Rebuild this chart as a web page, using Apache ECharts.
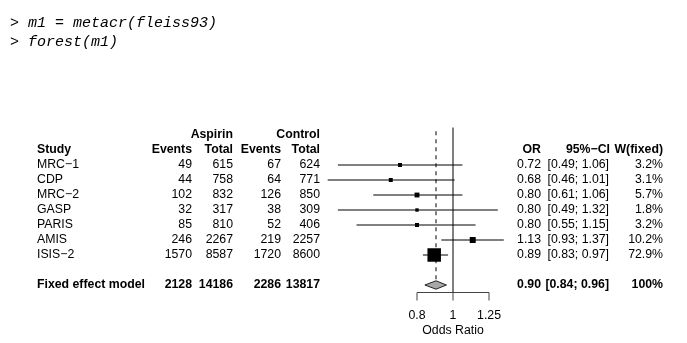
<!DOCTYPE html>
<html><head><meta charset="utf-8">
<script src="https://cdn.jsdelivr.net/npm/echarts@6/dist/echarts.min.js"></script>
<style>html,body{margin:0;padding:0;background:#fff}#c{width:687px;height:343px}</style>
</head><body><div id="c"></div>
<script>
// ---- data ----
const studies = ['MRC\u22121', 'CDP', 'MRC\u22122', 'GASP', 'PARIS', 'AMIS', 'ISIS\u22122'];
const eventsA = [49, 44, 102, 32, 85, 246, 1570];
const totalA = [615, 758, 832, 317, 810, 2267, 8587];
const eventsC = [67, 64, 126, 38, 52, 219, 1720];
const totalC = [624, 771, 850, 309, 406, 2257, 8600];
const oddsRatio = [0.72, 0.68, 0.80, 0.80, 0.80, 1.13, 0.89];
const ciLow = [0.49, 0.46, 0.61, 0.49, 0.55, 0.93, 0.83];
const ciHigh = [1.06, 1.01, 1.06, 1.32, 1.15, 1.37, 0.97];
const weight = [3.2, 3.1, 5.7, 1.8, 3.2, 10.2, 72.9];
const fixedLabel = 'Fixed effect model';
const fixedEventsA = 2128, fixedTotalA = 14186, fixedEventsC = 2286, fixedTotalC = 13817;
const fixedOR = 0.90, fixedLow = 0.84, fixedHigh = 0.96, fixedWeight = '100%';
const axisTicks = [0.8, 1, 1.25];
const axisTickLabels = ['0.8', '1', '1.25'];
const axisTitle = 'Odds Ratio';
const codeLines = ['> m1 = metacr(fleiss93)', '> forest(m1)'];

// ---- layout helpers ----
const FONT = '"Liberation Sans", Arial, Helvetica, sans-serif';
const FS = 12.3;
const f2 = v => v.toFixed(2);
const X = {study: 37, evA: 192, totA: 233, evC: 281, totC: 320, or: 541, ci: 609, ciHead: 610, w: 663};

const tableRows = [];
tableRows.push({y: -1, bold: true, cells: [
  {t: 'Aspirin', x: X.totA, a: 'right'}, {t: 'Control', x: X.totC, a: 'right'}]});
tableRows.push({y: 0, bold: true, cells: [
  {t: 'Study', x: X.study, a: 'left'}, {t: 'Events', x: X.evA, a: 'right'},
  {t: 'Total', x: X.totA, a: 'right'}, {t: 'Events', x: X.evC, a: 'right'},
  {t: 'Total', x: X.totC, a: 'right'}, {t: 'OR', x: X.or, a: 'right'},
  {t: '95%\u2212CI', x: X.ciHead, a: 'right'}, {t: 'W(fixed)', x: X.w, a: 'right'}]});
studies.forEach((s, i) => {
  tableRows.push({y: i + 1, bold: false, cells: [
    {t: s, x: X.study, a: 'left'}, {t: String(eventsA[i]), x: X.evA, a: 'right'},
    {t: String(totalA[i]), x: X.totA, a: 'right'}, {t: String(eventsC[i]), x: X.evC, a: 'right'},
    {t: String(totalC[i]), x: X.totC, a: 'right'}, {t: f2(oddsRatio[i]), x: X.or, a: 'right'},
    {t: '[' + f2(ciLow[i]) + '; ' + f2(ciHigh[i]) + ']', x: X.ci, a: 'right'},
    {t: weight[i].toFixed(1) + '%', x: X.w, a: 'right'}]});
});
const fixedRow = studies.length + 2;
tableRows.push({y: fixedRow, bold: true, cells: [
  {t: fixedLabel, x: X.study, a: 'left'}, {t: String(fixedEventsA), x: X.evA, a: 'right'},
  {t: String(fixedTotalA), x: X.totA, a: 'right'}, {t: String(fixedEventsC), x: X.evC, a: 'right'},
  {t: String(fixedTotalC), x: X.totC, a: 'right'}, {t: f2(fixedOR), x: X.or, a: 'right'},
  {t: '[' + f2(fixedLow) + '; ' + f2(fixedHigh) + ']', x: X.ci, a: 'right'},
  {t: fixedWeight, x: X.w, a: 'right'}]});

const yTop = -1.5, yBottom = fixedRow + 0.5;

const chart = echarts.init(document.getElementById('c'), null, {renderer: 'canvas'});
chart.setOption({
  animation: false,
  backgroundColor: '#ffffff',
  grid: {left: 327.7, width: 176.1, top: 127.5, height: 165},
  xAxis: {type: 'log', min: 0.46, max: 1.37, show: false},
  yAxis: {type: 'value', inverse: true, min: yTop, max: yBottom, show: false},
  graphic: codeLines.map((t, i) => ({
    type: 'text', left: 10, top: 16 + i * 19,
    style: {text: t, fill: '#000', font: 'italic 15px "Liberation Mono", "DejaVu Sans Mono", monospace'}
  })),
  series: [
    { // table text
      type: 'custom', coordinateSystem: 'cartesian2d', silent: true,
      data: tableRows.map((r, i) => [1, r.y, i]),
      renderItem: (params, api) => {
        const r = tableRows[params.dataIndex];
        const y = api.coord([1, r.y])[1];
        return {type: 'group', children: r.cells.map(c => ({
          type: 'text', x: c.x, y: y,
          style: {text: c.t, fill: '#000', align: c.a, verticalAlign: 'middle',
            font: (r.bold ? 'bold ' : '') + FS + 'px ' + FONT}
        }))};
      }
    },
    { // reference lines
      type: 'custom', silent: true,
      data: [[1, 0]],
      renderItem: (params, api) => {
        const a = api.coord([1, yTop]), b = api.coord([1, yBottom]);
        const c = api.coord([fixedOR, -1.25]), d = api.coord([fixedOR, fixedRow - 0.27]);
        return {type: 'group', children: [
          {type: 'line', shape: {x1: a[0], y1: a[1], x2: b[0], y2: b[1]}, style: {stroke: '#000', lineWidth: 1}},
          {type: 'line', shape: {x1: c[0], y1: c[1], x2: d[0], y2: d[1]}, style: {stroke: '#000', lineWidth: 1, lineDash: [4, 4]}}
        ]};
      }
    },
    { // CI lines
      type: 'custom', silent: true,
      data: studies.map((s, i) => [ciLow[i], ciHigh[i], i + 1]),
      encode: {x: [0, 1], y: 2},
      renderItem: (params, api) => {
        const p1 = api.coord([api.value(0), api.value(2)]);
        const p2 = api.coord([api.value(1), api.value(2)]);
        return {type: 'line', shape: {x1: p1[0], y1: p1[1], x2: p2[0], y2: p2[1]}, style: {stroke: '#000', lineWidth: 1}};
      }
    },
    { // squares
      type: 'scatter', silent: true, symbol: 'rect',
      data: studies.map((s, i) => [oddsRatio[i], i + 1, weight[i]]),
      symbolSize: v => 1.5 + 12 * Math.sqrt(v[2] / 72.9),
      itemStyle: {color: '#000', opacity: 1}
    },
    { // diamond
      type: 'custom', silent: true,
      data: [[fixedLow, fixedOR, fixedHigh, fixedRow]],
      encode: {x: [0, 1, 2], y: 3},
      renderItem: (params, api) => {
        const y = api.value(3), h = 0.28;
        const pts = [api.coord([api.value(0), y]), api.coord([api.value(1), y - h]),
                     api.coord([api.value(2), y]), api.coord([api.value(1), y + h])];
        return {type: 'polygon', shape: {points: pts}, style: {fill: '#a8a8a8', stroke: '#222', lineWidth: 1}};
      }
    },
    { // bottom axis
      type: 'custom', silent: true,
      data: axisTicks.map((t, i) => [t, yBottom, i]),
      renderItem: (params, api) => {
        const i = params.dataIndex;
        const p = api.coord([axisTicks[i], yBottom]);
        const children = [
          {type: 'line', shape: {x1: p[0], y1: p[1], x2: p[0], y2: p[1] + 8}, style: {stroke: '#444', lineWidth: 1}},
          {type: 'text', x: p[0], y: p[1] + 23.5, style: {text: axisTickLabels[i], fill: '#000', align: 'center', verticalAlign: 'middle', font: FS + 'px ' + FONT}}
        ];
        if (i === 0) {
          const a = api.coord([axisTicks[0], yBottom]);
          const b = api.coord([axisTicks[axisTicks.length - 1], yBottom]);
          const m = api.coord([1, yBottom]);
          children.push({type: 'line', shape: {x1: a[0], y1: a[1], x2: b[0], y2: b[1]}, style: {stroke: '#444', lineWidth: 1.2}});
          children.push({type: 'text', x: m[0], y: m[1] + 38.5, style: {text: axisTitle, fill: '#000', align: 'center', verticalAlign: 'middle', font: FS + 'px ' + FONT}});
        }
        return {type: 'group', children};
      }
    }
  ]
});
</script></body></html>
